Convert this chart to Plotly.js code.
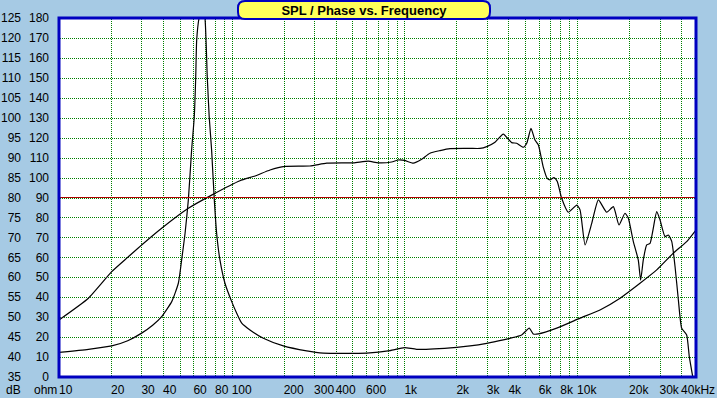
<!DOCTYPE html>
<html>
<head>
<meta charset="utf-8">
<script src="https://cdn.plot.ly/plotly-3.0.1.min.js"></script>
<style>
html,body{margin:0;padding:0;background:#a6cae4;}
#chart{width:717px;height:398px;}
</style>
</head>
<body>
<div id="chart"></div>
<script>
// SPL curve (dB, left dB scale)
const splFreq = [10, 14.8, 20.2, 25, 30.1, 39.3, 56.1, 76.5, 111.6, 136.5, 166.7, 203.5, 283.8, 355, 506, 618, 706, 843, 922, 1000, 1126, 1259, 1406, 1607, 1836, 2400, 2741, 2997, 3346, 3738, 4180, 4467, 4883, 5110, 5408, 5702, 5960, 6364, 6714, 6966, 7346, 7678, 8140, 8896, 9950, 10400, 11120, 12150, 13280, 14840, 16220, 17480, 18930, 19800, 21150, 22600, 23330, 24170, 25290, 26430, 28900, 30200, 32300, 33750, 35300, 36900, 38580, 40330, 43090, 44630, 46700];
const splDb = [49.3, 54.75, 61.4, 65.0, 68.1, 72.3, 77.3, 80.6, 84.2, 85.4, 86.9, 87.8, 87.9, 88.6, 88.7, 89.1, 88.7, 88.9, 89.4, 89.3, 88.6, 89.6, 91.1, 91.75, 92.25, 92.3, 92.3, 92.75, 93.85, 95.9, 93.75, 93.6, 92.6, 93.6, 97.35, 94.4, 93.2, 87.7, 84.8, 84.4, 85.0, 84.0, 79.8, 76.3, 78.1, 76.9, 68.1, 73.5, 79.4, 76.3, 77.7, 73.1, 76.05, 74.8, 69.0, 64.35, 59.3, 64.35, 68.1, 68.5, 76.45, 74.4, 70.2, 70.6, 69.0, 62.7, 54.3, 47.2, 45.55, 40.1, 35.1];

// Impedance curve (ohm, left ohm scale)
const impFreq = [10, 14.8, 20.2, 25, 30.1, 35, 39.3, 44.95, 49.1, 51.3, 53.7, 56.1, 58.6, 60.7, 61.9, 62.7, 64.7, 67.5, 70.0, 72.2, 74.1, 76.5, 79.3, 81.8, 85.5, 91.4, 100, 106.9, 114.3, 127.6, 152.5, 199, 271.5, 339, 605, 825, 1000, 1178, 2010, 2400, 2997, 3738, 4083, 4777, 5284, 5574, 5960, 7620, 10400, 13570, 17730, 23130, 28900, 36050, 43090, 48750];
const impOhm = [12.3, 13.9, 15.6, 18.2, 22, 26.1, 30.3, 37.8, 47, 58.7, 72.1, 88.8, 113.8, 130.4, 150.4, 169, 180, 186, 180, 150.4, 130.4, 113.8, 88.8, 72.1, 58.7, 47, 37.8, 32, 27, 23.6, 19.4, 15.6, 13.1, 12.0, 12.0, 13.2, 14.75, 13.9, 14.9, 15.6, 16.9, 18.6, 19.4, 21.1, 24.5, 21.6, 21.6, 24.5, 29.5, 33.6, 39.5, 47, 53.7, 62.1, 67.9, 73.7];

// Axis tick labels
const xTickVals = [10, 20, 30, 40, 60, 80, 100, 200, 300, 400, 600, 1000, 2000, 3000, 4000, 6000, 8000, 10000, 20000, 30000, 40000];
const xTickText = ['10', '20', '30', '40', '60', '80', '100', '200', '300', '400', '600', '1k', '2k', '3k', '4k', '6k', '8k', '10k', '20k', '30k', '40kHz'];
const xGridVals = [10,20,30,40,50,60,70,80,90,100,200,300,400,500,600,700,800,900,1000,2000,3000,4000,5000,6000,7000,8000,9000,10000,20000,30000,40000];
const dbRange = [35, 125];
const ohmRange = [0, 180];
const refLineDb = 80;
const titleText = 'SPL / Phase vs. Frequency';

const W = 717, H = 398;
const L = 59, R = 696, T = 18, B = 377;
const px = x => (x - L) / (R - L);
const py = y => (B - y) / (B - T);

const gridColor = '#008000';
const gridDash = '1px,1px';
const font = {family: '"Liberation Sans", Arial, sans-serif', size: 12, color: '#000000'};

const traces = [
  {x: impFreq, y: impOhm, type: 'scatter', mode: 'lines', yaxis: 'y', line: {color: '#000000', width: 1.2, shape: 'spline', smoothing: 0.5}, hoverinfo: 'skip'},
  {x: splFreq, y: splDb, type: 'scatter', mode: 'lines', yaxis: 'y2', line: {color: '#000000', width: 1.2, shape: 'spline', smoothing: 0.5}, hoverinfo: 'skip'}
];

// Title box: rounded rect in paper coords
const bx0 = 238, bx1 = 490, by0 = 1, by1 = 19, rr = 7;
const boxPath = `M ${px(bx0+rr)},${py(by0)} L ${px(bx1-rr)},${py(by0)} Q ${px(bx1)},${py(by0)} ${px(bx1)},${py(by0+rr)} L ${px(bx1)},${py(by1-rr)} Q ${px(bx1)},${py(by1)} ${px(bx1-rr)},${py(by1)} L ${px(bx0+rr)},${py(by1)} Q ${px(bx0)},${py(by1)} ${px(bx0)},${py(by1-rr)} L ${px(bx0)},${py(by0+rr)} Q ${px(bx0)},${py(by0)} ${px(bx0+rr)},${py(by0)} Z`;

const layout = {
  width: W, height: H,
  margin: {l: L, r: W - R, t: T, b: H - B, pad: 0},
  paper_bgcolor: '#a6cae4',
  plot_bgcolor: '#ffffff',
  showlegend: false,
  font: font,
  title: {text: '<b>' + titleText + '</b>', x: 364 / W, xanchor: 'center', y: 1 - 10 / H, yanchor: 'middle', font: {family: font.family, size: 13, color: '#000000'}},
  xaxis: {
    type: 'log', range: [Math.log10(10), Math.log10(48800)],
    tickmode: 'array', tickvals: xTickVals, ticktext: xTickText, tickangle: 0,
    ticks: '', ticklabelposition: 'outside right', ticklabelstandoff: 4,
    showgrid: false,
    minor: {tickmode: 'array', tickvals: xGridVals, showgrid: true, gridcolor: gridColor, griddash: gridDash, gridwidth: 1, ticks: ''},
    showline: false, zeroline: false, fixedrange: true, automargin: false
  },
  yaxis: {
    range: ohmRange, dtick: 10, tick0: 0, ticks: '', ticklabelstandoff: 9,
    showgrid: true, gridcolor: gridColor, griddash: gridDash, gridwidth: 1,
    zeroline: false, showline: false, fixedrange: true, automargin: false
  },
  yaxis2: {
    range: dbRange, dtick: 5, tick0: 35, overlaying: 'y', side: 'left', anchor: 'x',
    ticks: '', ticklabelstandoff: 37, showgrid: false, zeroline: false, showline: false, fixedrange: true, automargin: false
  },
  shapes: [
    {type: 'line', xref: 'paper', yref: 'y2', x0: 0, x1: 1, y0: refLineDb, y1: refLineDb, line: {color: '#b00000', width: 1}, layer: 'above'},
    {type: 'rect', xref: 'paper', yref: 'paper', x0: 0, x1: 1, y0: 0, y1: 1, line: {color: '#0000c0', width: 3}, layer: 'above'},
    {type: 'path', xref: 'paper', yref: 'paper', path: boxPath, fillcolor: '#ffff5a', line: {color: '#0000c0', width: 2}, layer: 'above'}
  ],
  annotations: [
    {xref: 'paper', yref: 'paper', x: px(4), y: py(390), xanchor: 'left', yanchor: 'middle', text: 'dB', showarrow: false, font: font},
    {xref: 'paper', yref: 'paper', x: px(32), y: py(390), xanchor: 'left', yanchor: 'middle', text: 'ohm', showarrow: false, font: font}
  ]
};

// Snap dotted grid lines onto pixel centres so every line renders the same way
function snapGrid() {
  document.querySelectorAll('#chart path.xgrid, #chart path.ygrid').forEach(p => {
    const d = p.getAttribute('d');
    if (!d) return;
    p.setAttribute('d', d.replace(/^M\s*([\-\d.eE]+)\s*,\s*([\-\d.eE]+)/, (m, a, b) =>
      'M' + (Math.floor(+a) + 0.5) + ',' + (Math.floor(+b) + 0.5)));
    p.style.shapeRendering = 'crispEdges';
  });
}

Plotly.newPlot('chart', traces, layout, {staticPlot: true, displayModeBar: false}).then(snapGrid);
</script>
</body>
</html>
